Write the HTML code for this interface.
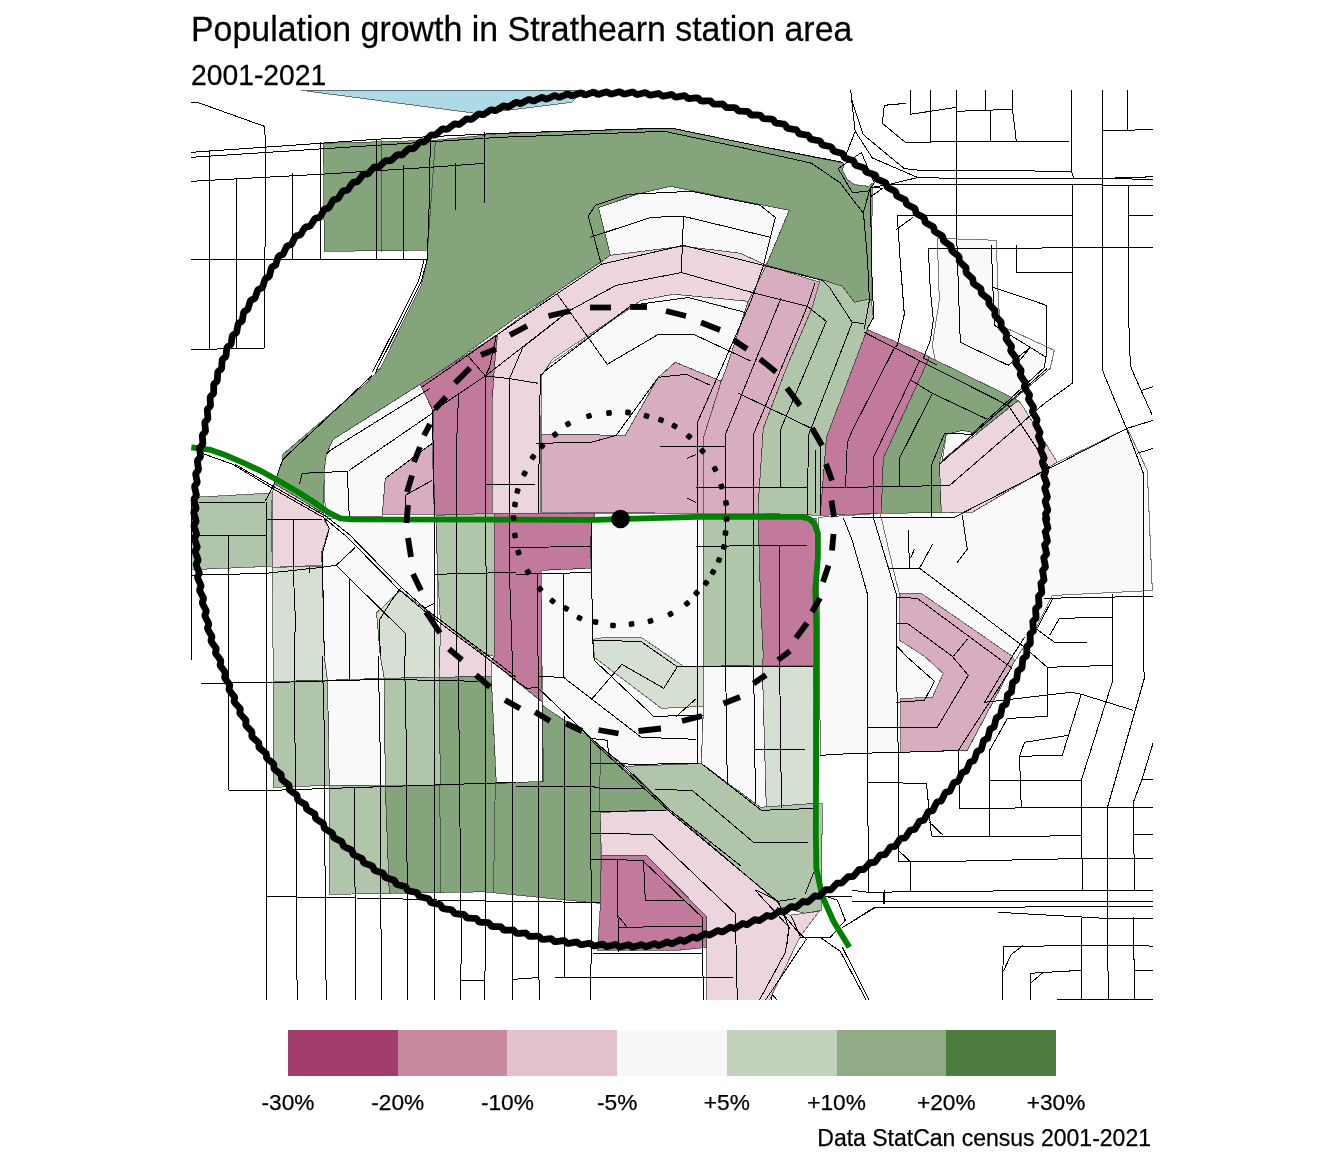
<!DOCTYPE html>
<html lang="en"><head><meta charset="utf-8"><title>Population growth in Strathearn station area</title>
<style>
html,body{margin:0;padding:0;background:#fff}
body{width:1344px;height:1152px;overflow:hidden;font-family:"Liberation Sans",sans-serif;color:#000}
svg{display:block}
text{font-family:"Liberation Sans",sans-serif;fill:#000;stroke:#000;stroke-width:0.25px}
</style></head><body>
<svg width="1344" height="1152" viewBox="0 0 1344 1152">
<rect width="1344" height="1152" fill="#fff"/>
<defs><clipPath id="panel"><rect x="191" y="90" width="962" height="910"/></clipPath></defs>
<text transform="translate(191 41) scale(1 1.03)" font-size="33.9">Population growth in Strathearn station area</text>
<text transform="translate(191 84.8) scale(1 1.03)" font-size="28.3">2001-2021</text>
<g clip-path="url(#panel)">
<g shape-rendering="crispEdges" stroke="#333" stroke-opacity="0.65" stroke-width="1" stroke-linejoin="round">
<polygon fill="#add8e6" points="301.4,90.3 474.6,113.2 500.3,111.25 571.4,102.3 584.8,90.3"/>
<polygon fill="#f9f9f9" points="598.5,207.5 640.3,193.3 670.3,186.3 789.3,210.3 766.3,265.3 740.3,253.3 683.3,246.3 610.3,255.3"/>
<polygon fill="#f9f9f9" points="937.3,238.3 996.3,240.3 998.3,300.3 1000.3,325.3 1054.3,350.3 1050.3,368.3 942.3,460.3 936.3,365.3 932.3,345.3 939.3,300.3"/>
<polygon fill="#84a57b" points="323.3,143.3 434.3,140.3 500.3,133.6 659.3,128.5 672.3,128.5 740.3,142.3 843.6,163.2 842.7,170.4 847.3,179.3 854.3,184.6 868.6,186.4 872.3,183.3 871.3,300.3 868.3,299.3 854.3,302.3 842.5,286.3 820.3,279.3 766.3,265.3 789.3,210.3 670.3,186.3 640.3,193.3 598.5,207.5 610.3,255.3 600.3,262.5 557.3,291.3 516.3,317.5 445.3,368.3 420.3,384.3 333.3,439.3 326.3,454.3 324.3,470.3 323.3,513.3 274.3,483.6 282.7,459.8 282.7,454.4 367.3,382.3 380.3,368.3 421.3,285.3 427.3,259.3 427.5,250.3 324.3,251.3"/>
<polygon fill="#f9f9f9" points="420.3,384.3 333.3,439.3 326.3,454.3 324.3,470.3 325.3,516.3 382.3,516.3 385.3,478.3 432.3,443.3 433.3,411.3"/>
<polygon fill="#d9adc0" points="385.3,478.3 432.3,443.3 434.3,514.3 382.3,514.3"/>
<polygon fill="#c17a9b" points="420.3,384.3 497.5,334.5 494.3,368.3 492.3,400.3 492.3,514.3 434.3,514.3 433.3,411.3"/>
<polygon fill="#ecd5dc" points="497.5,334.5 516.3,320.3 557.3,291.3 600.3,262.5 610.3,255.3 683.3,246.3 740.3,253.3 766.3,265.3 748.3,301.3 673.5,294.3 641.3,300.3 552.3,359.3 541.3,376.3 540.3,513.3 492.3,514.3 492.3,400.3 494.3,368.3"/>
<polygon fill="#f9f9f9" points="549.5,364.3 641.3,300.3 673.5,294.3 748.3,301.3 726.3,368.3 721.3,381.3 675.3,362.3 658.3,377.3 625.3,435.3 541.3,434.3 541.3,376.3"/>
<polygon fill="#d9adc0" points="541.3,434.3 625.3,435.3 658.3,377.3 675.3,362.3 721.3,381.3 703.3,438.3 703.3,513.3 541.3,512.3"/>
<polygon fill="#d9adc0" points="766.3,265.3 820.3,282.5 812.3,307.5 786.3,368.3 763.3,428.3 758.3,503.3 758.3,513.3 703.3,513.3 703.3,438.3 721.3,381.3 726.3,368.3 748.3,301.3"/>
<polygon fill="#b1c5ab" points="820.3,279.3 842.5,286.3 854.3,302.3 868.3,299.3 871.3,300.3 873.3,317.3 867.3,329.5 826.5,437.3 820.3,515.3 758.3,513.3 758.3,503.3 763.3,428.3 786.3,368.3 812.3,307.5"/>
<polygon fill="#c17a9b" points="867.3,329.5 929.3,356.4 924.5,368.3 883.3,458.3 881.3,513.3 820.3,515.3 826.5,437.3"/>
<polygon fill="#84a57b" points="929.3,357.3 952.3,368.3 1018.3,400.5 977.3,433.3 962.3,430.5 946.3,434.3 939.5,463.3 941.3,513.3 881.3,513.3 883.3,458.3 924.5,368.3"/>
<polygon fill="#ecd5dc" points="1018.3,400.5 1022.3,405.5 1057.3,462.3 972.3,512.3 941.3,513.3 939.5,463.3 977.3,433.3"/>
<polygon fill="#f9f9f9" points="946.3,434.3 962.3,430.5 977.3,433.3 942.3,460.3"/>
<polygon fill="#f9f9f9" points="881.3,513.3 972.3,512.3 1057.3,462.3 1127.3,428.3 1147.3,470.5 1152.3,590.5 1052.3,595.5 1037.3,625.5 1014.5,661.3 967.3,750.3 900.5,752.3 852.3,753.5 820.3,755.3 818.3,517.3"/>
<polygon fill="#d9adc0" points="899.5,593.3 921.3,593.3 1012.3,656.3 1014.5,661.3 967.3,750.3 900.5,752.3 900.5,698.5 932.3,697.3 943.3,673.5 924.5,656.3 899.5,640.3"/>
<polygon fill="#b1c5ab" points="191.3,497.5 267.2,493.3 273.3,492.3 271.4,503.8 272.2,566.25 200.3,569.3 191.3,569.5"/>
<polygon fill="#ecd5dc" points="274.3,483.6 323.3,513.3 324.3,520.3 329.3,528.3 321.3,553.3 322.3,565.3 272.3,567.3 272.3,493.3"/>
<polygon fill="#d5dfd2" points="272.3,567.3 322.3,566.3 324.3,656.3 327.5,680.3 273.3,681.5"/>
<polygon fill="#f9f9f9" points="324.3,518.3 436.3,518.3 437.3,568.3 437.3,620.3 426.3,610.3 400.3,590.3 376.3,613.3 377.3,620.3 380.3,656.3 384.3,678.3 327.5,680.3 324.3,656.3 322.3,565.3 321.3,553.3 329.3,528.3"/>
<polygon fill="#b1c5ab" points="436.3,515.3 494.3,513.3 494.3,656.3 482.3,653.3 440.3,620.3 437.3,568.3"/>
<polygon fill="#c17a9b" points="494.3,513.3 595.3,513.3 591.3,523.3 590.3,568.3 541.3,570.3 541.3,656.3 542.3,702.3 516.3,681.3 491.3,661.3 494.3,656.3"/>
<polygon fill="#f9f9f9" points="595.3,513.3 697.3,513.3 703.3,518.3 703.3,656.3 703.5,706.3 701.3,763.5 626.3,766.3 542.3,706.3 541.3,570.3 590.3,568.3 591.3,523.3"/>
<polygon fill="#b1c5ab" points="703.3,518.3 758.3,518.3 760.3,593.3 763.3,656.3 762.3,665.3 703.5,666.3"/>
<polygon fill="#c17a9b" points="758.3,518.3 816.3,518.3 816.3,656.3 813.5,665.3 762.3,665.3 763.3,656.3 760.3,593.3"/>
<polygon fill="#d5dfd2" points="593.3,639.3 605.3,637.3 641.3,637.3 684.3,666.8 704.3,666.8 704.3,706.3 661.3,708.3 594.3,657.3"/>
<polygon fill="#d5dfd2" points="376.3,613.3 400.3,590.3 426.3,610.3 440.3,633.3 439.3,677.3 384.3,678.3 380.3,656.3 377.3,620.3"/>
<polygon fill="#ecd5dc" points="440.3,620.3 482.3,653.3 491.3,661.3 491.3,676.3 439.3,677.3 440.3,633.3"/>
<polygon fill="#f9f9f9" points="327.5,680.3 384.3,678.3 385.3,785.3 329.3,785.3"/>
<polygon fill="#b1c5ab" points="273.3,681.5 327.5,680.3 329.3,785.3 273.3,787.3"/>
<polygon fill="#b1c5ab" points="384.3,678.3 439.3,677.3 440.3,785.3 385.3,785.3"/>
<polygon fill="#b1c5ab" points="329.3,785.3 385.3,786.3 389.3,893.5 329.5,894.3"/>
<polygon fill="#84a57b" points="439.3,677.3 491.3,676.3 496.3,783.5 516.3,782.3 542.3,781.3 542.3,705.3 591.3,738.5 670.3,810.3 600.3,812.3 600.3,903.4 484.3,891.8 389.3,893.5 385.3,786.3 440.3,785.3"/>
<polygon fill="#f9f9f9" points="491.3,676.3 491.3,661.3 516.3,681.3 542.3,702.3 542.3,781.3 496.3,783.5"/>
<polygon fill="#f9f9f9" points="703.5,666.3 762.3,665.3 766.3,807.3 760.3,807.3 701.3,763.5 703.5,706.3"/>
<polygon fill="#d5dfd2" points="762.3,665.3 813.5,665.3 813.5,803.5 766.3,807.3"/>
<polygon fill="#b1c5ab" points="626.3,766.3 701.3,763.5 760.3,807.3 813.5,803.5 822.3,803.5 821.3,910.3 805.3,913.3 781.3,907.3 777.3,902.3 670.3,810.3"/>
<polygon fill="#ecd5dc" points="600.3,812.3 670.3,810.3 777.3,902.3 781.3,907.3 789.3,915.3 819.3,911.3 800.3,936.3 769.3,1000.3 706.3,1000.3 706.3,916.3 646.3,855.3 601.3,855.3"/>
<polygon fill="#c17a9b" points="601.3,855.3 646.3,855.3 706.3,916.3 706.3,947.5 677.5,950.3 597.5,950.5 600.3,906.3"/>
</g>
<g shape-rendering="crispEdges" fill="none" stroke="#333" stroke-opacity="0.65" stroke-width="1">
<polyline points="381.3,139.5 381.3,252.3"/>
<polyline points="435.3,142.3 427.5,250.3"/>
<polyline points="942.3,460.3 1050.3,368.3"/>
<polyline points="439.8,785.3 440.5,893.3"/>
<polyline points="495.3,783.5 493.5,892.3"/>
<polyline points="600.4,749.3 599.5,811.4"/>
<polyline points="542.3,706.3 543.6,782.3"/>
<polyline points="880.4,514.3 896.4,582.3 900.3,596.3"/>
</g>
<g shape-rendering="crispEdges" fill="none" stroke="#000" stroke-width="1">
<polyline points="191.3,102.3 197.3,102.3 264.3,126.3 265.3,138.3 265.3,246.3 264.3,250.3 264.3,348.3"/>
<polyline points="191.3,152.3 320.3,143.3 375.3,139.3 500.3,133.3 659.3,128.3 672.3,128.3 740.3,142.3 843.3,162.5"/>
<polyline points="191.3,157.3 500.3,137.3 664.3,131.3 740.3,147.3 811.4,163.2 840.3,182.9 863.2,213.2 870.4,187.3"/>
<polyline points="191.3,181.3 320.3,174.3 430.3,167.3 484.3,163.3"/>
<polyline points="209.5,150.3 209.5,349.3"/>
<polyline points="236.5,179.3 236.5,349.3"/>
<polyline points="292.5,173.3 292.5,259.3"/>
<polyline points="320.5,142.3 320.5,259.3"/>
<polyline points="376.3,139.3 376.3,200.3 376.5,259.3"/>
<polyline points="403.5,165.3 403.5,259.3"/>
<polyline points="430.3,140.3 429.3,200.3 427.3,259.3 421.4,281.3 377.5,368.3 375.3,373.3"/>
<polyline points="455.5,163.3 455.5,210.3"/>
<polyline points="484.5,132.3 484.5,203.3"/>
<polyline points="191.3,259.3 427.3,259.3"/>
<polyline points="191.3,349.3 196.3,349.3 264.3,348.3"/>
<polyline points="191.5,497.3 191.5,660.3"/>
<polyline points="910.5,90.3 910.5,114.3 956.3,107.3"/>
<polyline points="930.5,90.3 930.5,142.3"/>
<polyline points="956.5,90.3 956.5,230.3 958.3,285.3 960.3,342.3 1008.3,365.3 1030.3,347.3"/>
<polyline points="985.5,90.3 985.5,110.3"/>
<polyline points="1012.5,90.3 1012.5,109.3 1016.3,141.3"/>
<polyline points="956.3,111.3 1012.3,109.3"/>
<polyline points="990.5,110.3 990.5,141.3"/>
<polyline points="905.3,142.3 990.3,141.3 1069.3,141.3"/>
<polyline points="906.3,103.3 884.3,105.3 882.3,123.3 905.3,142.3"/>
<polyline points="1071.5,90.3 1071.5,171.3 1073.3,177.3"/>
<polyline points="1102.5,90.3 1102.5,368.3"/>
<polyline points="1127.5,90.3 1127.5,130.3"/>
<polyline points="1102.3,130.3 1127.3,130.3 1153.3,129.3"/>
<polyline points="904.3,168.6 920.3,170.4 960.3,170.4 1071.3,171.3 1073.8,177.8"/>
<polyline points="917.7,177.5 960.3,178.5 1096.3,178.5 1142.3,177.3 1153.3,176.3"/>
<polyline points="1096.3,178.5 1153.3,179.3"/>
<polyline points="872.3,187.3 888.3,184.6 960.3,184.5 1153.3,185.2"/>
<polyline points="850.7,90.3 851.6,99.3 855.2,131.3 845.4,156.3"/>
<polyline points="851.6,99.3 863.2,134.6 904.3,168.6"/>
<polyline points="855.2,131.3 872.3,157.9 917.7,177.5 888.3,184.6"/>
<polyline points="838.2,168.6 852.5,192.7 868.6,190.9 874.3,182.9 861.4,152.5 838.2,168.6"/>
<polyline points="870.4,187.3 882.9,188.2 871.25,196.25"/>
<polyline points="897.3,215.3 1072.3,215.3"/>
<polyline points="1072.5,185.3 1072.5,368.3"/>
<polyline points="1128.5,185.3 1128.3,308.3 1130.3,364.3 1131.3,368.3"/>
<polyline points="1128.3,215.3 1153.3,215.3"/>
<polyline points="928.3,248.3 1040.3,248.3 1045.3,247.3 1153.3,247.3"/>
<polyline points="1016.5,245.3 1016.5,272.3 1072.3,272.3"/>
<polyline points="897.3,215.3 900.3,262.3 904.3,314.3 897.3,345.3 894.5,347.7"/>
<polyline points="896.3,229.3 913.3,217.3"/>
<polyline points="928.3,248.3 930.3,290.3 933.3,320.3 930.3,340.3 923.3,358.3 937.3,365.3"/>
<polyline points="991.3,245.3 994.3,325.3 1046.3,357.3"/>
<polyline points="993.3,287.3 1046.3,305.3 1046.3,357.3"/>
<polyline points="1030.3,347.3 1018.3,362.3"/>
<polyline points="203.3,453.8 232.7,464.3 272.3,488.3 323.5,517.5 346.3,536.3 398.5,589.3 426.3,612.5 491.3,661.3 516.3,680.3"/>
<polyline points="235.3,464.5 276.7,488.3 326.3,516.5 349.3,534.5 401.3,587.5 428.5,611.3 493.3,659.5 516.3,677.3"/>
<polyline points="265.4,500.8 274.3,483.6 282.7,459.8 289.3,453.3 372.3,375.3"/>
<polyline points="266.3,502.3 266.3,660.3"/>
<polyline points="266.3,519.3 322.3,519.3"/>
<polyline points="199.3,502.3 265.3,502.3"/>
<polyline points="191.3,535.3 266.3,535.3"/>
<polyline points="228.5,535.3 228.5,790.3"/>
<polyline points="191.3,575.3 266.3,573.3 322.3,567.3 336.3,565.3"/>
<polyline points="293.5,519.3 293.5,575.3 295.3,618.3 294.5,656.3"/>
<polyline points="309.3,567.3 309.3,573.3"/>
<polyline points="302.3,473.3 325.3,472.3 347.3,471.3 349.3,517.3"/>
<polyline points="302.3,473.3 299.3,484.3"/>
<polyline points="326.3,454.3 330.3,450.3 430.3,388.3"/>
<polyline points="349.3,470.3 432.3,413.3"/>
<polyline points="385.3,478.3 432.3,443.3"/>
<polyline points="405.3,495.3 432.3,480.3"/>
<polyline points="405.3,495.3 406.3,520.3"/>
<polyline points="324.3,518.3 329.3,528.3 322.3,553.3 324.3,656.3"/>
<polyline points="336.3,565.3 355.3,547.3"/>
<polyline points="336.3,565.3 350.3,579.3 405.3,633.3 405.3,656.3"/>
<polyline points="349.5,579.3 349.5,680.3"/>
<polyline points="400.3,588.3 390.3,602.3 379.3,620.3 380.3,656.3"/>
<polyline points="434.3,603.3 424.3,608.3"/>
<polyline points="432.5,410.3 434.3,514.3 434.5,560.3 434.5,1000.3"/>
<polyline points="458.6,392.9 456.3,450.3 456.3,656.3"/>
<polyline points="485.4,375.9 486.3,656.3"/>
<polyline points="485.3,484.3 516.3,484.3"/>
<polyline points="435.3,574.3 516.3,572.3"/>
<polyline points="540.3,375.3 538.3,513.3"/>
<polyline points="485.4,375.9 509.5,378.6 538.3,383.3"/>
<polyline points="467.5,355.4 485.4,375.9"/>
<polyline points="496.3,335.7 489.3,367.9 485.4,375.9"/>
<polyline points="509.5,378.6 522.9,347.3 569.3,310.7"/>
<polyline points="536.3,443.3 591.3,442.3 616.3,435.3 658.3,377.3 686.3,374.3 710.3,385.3"/>
<polyline points="516.3,484.3 535.3,484.3"/>
<polyline points="697.5,422.3 697.5,513.3"/>
<polyline points="697.5,520.3 697.5,764.3"/>
<polyline points="725.5,434.3 725.5,656.3"/>
<polyline points="725.5,434.3 781.3,297.5"/>
<polyline points="753.5,434.3 753.5,656.3"/>
<polyline points="753.5,434.3 807.3,306.3"/>
<polyline points="780.3,430.3 780.3,487.3"/>
<polyline points="780.3,430.3 826.3,321.3"/>
<polyline points="808.5,435.3 807.3,515.3"/>
<polyline points="808.5,435.3 852.3,322.5"/>
<polyline points="820.3,445.3 820.3,515.3"/>
<polyline points="815.3,450.3 815.3,513.3"/>
<polyline points="660.3,446.3 725.3,446.3"/>
<polyline points="696.3,487.3 807.3,487.3"/>
<polyline points="696.3,546.3 807.3,545.3"/>
<polyline points="779.5,545.3 779.5,656.3"/>
<polyline points="687.3,458.3 696.3,454.3"/>
<polyline points="687.3,498.3 696.3,502.5"/>
<polyline points="738.5,393.3 811.3,428.3 821.3,445.3"/>
<polyline points="509.5,547.5 590.3,546.5"/>
<polyline points="563.5,573.3 563.5,677.3"/>
<polyline points="591.3,523.3 591.3,568.3 593.3,656.3 595.3,661.3"/>
<polyline points="516.3,574.3 591.3,572.5"/>
<polyline points="537.3,574.3 537.3,656.3"/>
<polyline points="820.3,487.3 852.3,487.3"/>
<polyline points="843.5,518.3 852.3,540.3"/>
<polyline points="852.3,517.3 954.3,517.3 1127.3,428.3 1153.3,420.3"/>
<polyline points="852.3,487.3 949.5,485.5 1044.5,403.3 1072.3,383.3 1072.3,368.3"/>
<polyline points="873.5,457.3 873.5,517.3"/>
<polyline points="873.5,457.3 919.7,360.7"/>
<polyline points="845.5,487.3 847.3,442.3 852.3,430.5 894.5,347.7"/>
<polyline points="899.5,458.3 899.5,485.5"/>
<polyline points="899.5,458.3 932.3,393.3 987.3,419.3"/>
<polyline points="931.3,465.5 931.3,517.3"/>
<polyline points="931.3,465.5 944.6,433.2 971.4,434.3 1044.6,367.3 1045.5,357.3"/>
<polyline points="934.5,368.3 1008.3,405.5 1038.3,450.5 1049.5,468.3"/>
<polyline points="911.3,380.5 932.3,393.3"/>
<polyline points="939.5,464.3 1047.3,368.3"/>
<polyline points="873.3,517.3 896.3,594.3 896.3,656.3"/>
<polyline points="852.3,540.5 867.5,594.3 867.5,656.3"/>
<polyline points="888.3,568.3 919.5,568.3 1022.3,645.5"/>
<polyline points="908.3,530.5 909.5,568.3"/>
<polyline points="914.5,549.3 910.3,558.3"/>
<polyline points="932.5,544.3 919.5,568.3"/>
<polyline points="962.3,515.5 967.3,549.3 956.5,563.5"/>
<polyline points="1102.3,368.3 1104.5,375.5 1127.3,430.5 1143.3,473.3 1143.3,656.3"/>
<polyline points="1131.3,368.3 1152.3,415.5"/>
<polyline points="1141.3,390.5 1153.3,386.5"/>
<polyline points="1137.3,453.3 1153.3,448.3"/>
<polyline points="1044.5,598.3 1153.3,596.3"/>
<polyline points="1112.5,594.3 1112.5,656.3"/>
<polyline points="1037.3,628.3 1052.3,599.3"/>
<polyline points="1059.5,618.3 1112.3,617.3"/>
<polyline points="1059.5,618.3 1049.5,635.5"/>
<polyline points="1035.5,628.3 1054.5,642.3 1087.3,642.3"/>
<polyline points="896.3,597.3 917.3,598.3 1011.6,667.9 958.3,750.5 959.5,808.3"/>
<polyline points="896.3,623.3 907.3,623.3 952.3,656.3"/>
<polyline points="967.3,639.3 953.3,656.3"/>
<polyline points="1012.3,656.3 1024.5,637.3"/>
<polyline points="896.3,645.5 906.3,656.3"/>
<polyline points="266.5,656.3 266.5,1000.3"/>
<polyline points="228.5,790.3 272.5,790.3 516.3,782.3"/>
<polyline points="201.3,683.3 273.3,682.5 384.3,679.3 478.3,681.3"/>
<polyline points="294.5,656.3 294.5,718.3 296.3,806.3 296.5,944.3 297.3,1000.3"/>
<polyline points="322.3,656.3 324.3,731.3 324.5,786.3 325.5,944.3 326.3,1000.3"/>
<polyline points="378.3,656.3 380.3,756.3 381.3,1000.3"/>
<polyline points="404.5,656.3 406.3,743.3 407.5,944.3 407.6,1000.3"/>
<polyline points="458.3,656.3 459.5,781.3 461.3,944.3 460.5,1000.3"/>
<polyline points="485.5,656.3 485.5,944.3 484.5,1000.3"/>
<polyline points="354.5,788.3 355.3,944.3 355.5,1000.3"/>
<polyline points="266.5,896.5 385.3,898.5 461.3,900.7 600.3,902.5"/>
<polyline points="538.3,656.3 538.5,944.3 539.3,1000.3"/>
<polyline points="538.3,676.5 563.5,677.3"/>
<polyline points="563.5,677.3 641.3,737.3 696.3,739.3"/>
<polyline points="595.3,661.3 653.5,716.3 703.5,715.3"/>
<polyline points="593.3,640.3 604.3,640.3 641.4,641.8 677.3,666.8 663.75,688.3 621.8,664.3 592.3,698.5"/>
<polyline points="676.3,666.3 813.3,666.3"/>
<polyline points="676.3,716.3 696.3,698.5"/>
<polyline points="516.3,681.3 527.3,688.5 537.3,687.3 591.3,738.5 607.3,740.3 608.5,753.5"/>
<polyline points="591.3,738.5 626.3,768.3 670.3,810.3 741.3,866.3"/>
<polyline points="591.3,740.5 670.3,812.3 778.5,902.3 788.5,926.3 787.3,944.3"/>
<polyline points="564.3,716.3 564.5,977.5"/>
<polyline points="590.5,738.5 591.3,944.3 590.5,1000.3"/>
<polyline points="591.4,763.3 643.3,764.3 697.7,763.2"/>
<polyline points="516.3,786.3 591.3,786.3 600.3,788.3 643.5,788.3"/>
<polyline points="591.3,811.5 666.3,810.5"/>
<polyline points="591.3,833.5 652.3,834.3 735.3,913.5 737.3,1000.3"/>
<polyline points="591.3,859.3 642.3,860.3 702.3,917.3 703.3,1000.3"/>
<polyline points="617.5,859.3 618.3,952.5"/>
<polyline points="643.5,860.3 645.3,900.3 683.5,900.3"/>
<polyline points="618.3,927.3 702.3,926.3"/>
<polyline points="618.3,916.3 627.3,927.3"/>
<polyline points="655.3,789.3 692.3,790.5 753.5,842.3 808.3,842.3"/>
<polyline points="701.3,763.5 761.3,810.3 813.5,808.5"/>
<polyline points="725.5,656.3 727.3,785.3"/>
<polyline points="753.5,656.3 755.5,803.5"/>
<polyline points="779.5,656.3 781.5,808.5"/>
<polyline points="753.5,749.3 805.3,749.3"/>
<polyline points="820.3,755.3 852.3,753.5"/>
<polyline points="815.3,868.5 805.3,893.5"/>
<polyline points="756.3,890.3 778.5,901.3 796.3,898.5"/>
<polyline points="791.3,916.3 800.3,936.3"/>
<polyline points="867.5,656.3 867.5,756.3 868.5,892.3"/>
<polyline points="896.3,656.3 898.3,756.3 898.3,861.3"/>
<polyline points="867.5,727.3 937.3,727.3 968.3,675.3 952.3,656.3"/>
<polyline points="896.3,702.3 924.5,700.3 934.5,681.3 906.3,656.3"/>
<polyline points="1012.3,656.3 984.5,702.3 1071.3,692.3 1081.3,694.3 1133.3,710.3"/>
<polyline points="1022.3,645.5 1047.3,667.3 1112.5,665.3"/>
<polyline points="1047.3,667.3 1047.5,716.3 1007.3,718.5 989.5,750.5 989.5,836.3"/>
<polyline points="1112.5,656.3 1112.5,681.3 1081.3,780.3 1082.3,890.3"/>
<polyline points="1081.3,694.3 1062.3,755.3 1019.5,756.3 1024.5,742.3 1067.5,735.5"/>
<polyline points="1019.5,756.3 1021.3,808.3"/>
<polyline points="989.5,780.3 1081.3,780.3"/>
<polyline points="959.5,808.3 1153.3,807.3"/>
<polyline points="931.5,836.3 1036.3,836.3 1081.5,835.3"/>
<polyline points="868.3,782.3 926.5,783.5 931.5,836.3"/>
<polyline points="929.5,822.3 943.3,835.5"/>
<polyline points="898.3,861.3 952.3,861.3 1081.5,858.5 1153.3,858.3"/>
<polyline points="898.3,850.3 910.3,861.5 910.3,892.3"/>
<polyline points="852.3,890.3 868.3,892.3 932.3,891.5 1081.5,890.3 1153.3,890.3"/>
<polyline points="852.3,901.5 1153.3,901.5"/>
<polyline points="852.3,921.3 874.5,907.3 972.3,907.3 1153.3,906.3"/>
<polyline points="883.3,892.3 883.3,903.5"/>
<polyline points="998.3,912.3 1104.5,918.3 1153.3,918.5"/>
<polyline points="1081.5,918.3 1081.5,1000.3"/>
<polyline points="1107.5,807.3 1107.5,940.3 1108.5,1000.3"/>
<polyline points="1143.3,656.3 1144.3,678.5 1107.5,807.3"/>
<polyline points="1133.3,802.3 1134.5,890.3"/>
<polyline points="1133.5,917.5 1134.5,1000.3"/>
<polyline points="1153.3,742.3 1142.3,778.5 1133.3,802.3"/>
<polyline points="1142.3,779.3 1153.3,779.3"/>
<polyline points="1134.3,834.3 1153.3,834.3"/>
<polyline points="820.3,755.3 852.3,753.5 900.3,752.3 958.3,750.5"/>
<polyline points="460.5,980.5 484.5,980.5"/>
<polyline points="509.5,378.6 509.5,573.3 512.3,660.3 512.5,890.3 512.6,1000.3"/>
<polyline points="512.6,979.4 539.3,977.5"/>
<polyline points="555.3,977.5 732.5,977.5"/>
<polyline points="592.5,953.3 702.5,953.3"/>
<polyline points="673.5,890.3 702.5,917.5"/>
<polyline points="755.3,890.3 789.3,927.5 785.3,952.5 759.3,1000.3"/>
<polyline points="777.5,907.5 797.5,931.3 806.3,939.3 765.3,1000.3"/>
<polyline points="771.3,1000.3 772.3,994.3 777.3,1000.3"/>
<polyline points="800.3,937.3 830.3,937.3 845.3,920.3 837.5,900.3 822.5,895.3"/>
<polyline points="820.3,937.5 840.3,951.3 866.3,1000.3"/>
<polyline points="842.5,947.5 869.3,1000.3"/>
<polyline points="842.5,927.5 875.3,907.5 896.3,907.3"/>
<polyline points="827.5,896.3 852.3,896.3"/>
<polyline points="884.3,890.3 884.3,903.5"/>
<polyline points="1003.3,946.3 1139.5,945.3 1153.3,946.3"/>
<polyline points="1003.3,946.3 1002.5,1000.3"/>
<polyline points="1023.3,945.5 1011.3,954.3 1003.3,971.3"/>
<polyline points="1030.3,973.3 1081.5,970.3"/>
<polyline points="1030.3,973.3 1030.3,1000.3"/>
<polyline points="1043.3,972.3 1030.3,983.3"/>
<polyline points="1056.5,999.3 1153.3,999.3"/>
<polyline points="1133.5,970.5 1153.3,970.5"/>
<polyline points="588.3,216.3 595.3,205.3 628.5,194.3 691.3,191.3 760.3,205.3 775.3,217.5 763.5,265.3 751.3,300.3 697.5,422.3"/>
<polyline points="588.3,216.3 601.3,264.3 556.3,294.3 497.9,334.3 421.3,387.5"/>
<polyline points="590.3,237.3 651.3,217.3 683.5,216.3 770.3,237.3"/>
<polyline points="683.5,216.3 681.3,272.5"/>
<polyline points="601.3,264.3 683.5,245.3 763.5,265.3 822.3,280.3"/>
<polyline points="433.6,410.7 485.4,375.9 569.3,310.7 616.3,285.3 681.3,272.5 752.3,292.5 807.3,306.3"/>
<polyline points="557.3,294.3 607.3,364.3 658.5,334.3 693.5,334.3 751.3,361.3"/>
<polyline points="540.3,375.3 548.5,368.3 631.3,305.3 688.5,297.5 745.3,312.5"/>
<polyline points="815.3,282.5 807.3,306.3"/>
<polyline points="807.3,306.3 826.3,321.3"/>
<polyline points="822.3,280.3 829.4,287.3 852.3,322.5 864.3,323.4"/>
<polyline points="864.3,332.3 934.5,368.3"/>
<polyline points="870.7,187.5 871.3,260.3 873.7,317.3 866.8,329.4"/>
<polyline points="863.3,211.3 867.6,260.3 869.4,300.3 864.2,329.4"/>
<polyline points="424.3,259.3 418.5,281.3 372.5,372.3"/>
</g>
</g>
<polyline fill="none" stroke="#008000" stroke-width="5.8" stroke-linejoin="round" points="191.3,447.3 209.3,449.6 226.7,455.6 244.6,463.3 262.4,471.7 280.3,481.8 298.3,492.3 316.3,503.8 328.3,512.3 340.3,518.3 351.3,519.3 516.3,519.7 594.3,519.8 696.3,516.9 801.3,516.9 808.3,518.3 814.3,523.3 817.9,533.3 817.9,557.3 815.3,589.3 816.3,625.3 816.5,706.3 815.8,831.3 816.3,868.5 822.3,896.3 833.5,921.3 849.3,947.3"/>
<polygon fill="none" stroke="#000" stroke-width="6.8" stroke-linejoin="round" points="1045.4,519 1045.8,520.3 1046.2,521.6 1046.5,522.9 1046.9,524.2 1047.2,525.5 1047.6,526.8 1047.9,528.1 1047,529.4 1046.1,530.7 1045.2,531.9 1045.6,533.2 1045.9,534.5 1046.2,535.8 1046.5,537.2 1046.8,538.5 1047.1,539.8 1047.4,541.1 1046.5,542.4 1045.6,543.6 1044.6,544.8 1044.9,546.2 1045.2,547.5 1045.5,548.8 1045.8,550.1 1046.1,551.4 1046.4,552.8 1046.6,554.1 1045.6,555.3 1044.7,556.5 1043.7,557.7 1044,559.1 1044.2,560.4 1044.5,561.7 1044.8,563 1045,564.4 1045.2,565.7 1045.5,567 1044.5,568.2 1043.5,569.4 1042.5,570.6 1042.7,571.9 1043,573.3 1043.2,574.6 1043.4,575.9 1043.6,577.3 1043.8,578.6 1044,580 1043,581.1 1041.9,582.3 1040.9,583.4 1041,584.8 1041.2,586.1 1041.3,587.4 1041.5,588.8 1041.6,590.1 1041.7,591.5 1041.8,592.8 1040.7,593.9 1039.6,595 1038.5,596.2 1038.6,597.5 1038.7,598.8 1038.7,600.2 1038.8,601.5 1038.9,602.8 1038.9,604.2 1039,605.5 1037.8,606.6 1036.7,607.7 1035.6,608.7 1035.6,610.1 1035.7,611.4 1035.8,612.8 1035.9,614.1 1036,615.5 1036,616.8 1036.1,618.2 1035,619.2 1033.9,620.3 1032.8,621.4 1032.9,622.7 1033,624.1 1033.1,625.4 1033.1,626.8 1033.2,628.2 1033.3,629.5 1033.4,630.9 1032.3,631.9 1031.1,633 1030,634 1030.1,635.4 1030.2,636.7 1030.2,638.1 1030.2,639.5 1030.3,640.8 1030.3,642.2 1030.3,643.6 1029.1,644.6 1027.9,645.6 1026.8,646.6 1026.8,647.9 1026.8,649.3 1026.8,650.6 1026.7,652 1026.7,653.3 1026.6,654.7 1026.5,656 1025.3,657 1024,657.9 1022.8,658.9 1022.7,660.2 1022.6,661.6 1022.4,662.9 1022.3,664.2 1022.2,665.5 1022,666.9 1021.8,668.2 1020.4,669.1 1019.1,669.9 1017.8,670.9 1017.6,672.2 1017.4,673.5 1017.3,674.8 1017.1,676.1 1016.9,677.4 1016.7,678.8 1016.4,680.1 1015.1,680.9 1013.8,681.8 1012.5,682.7 1012.4,684 1012.2,685.3 1012,686.7 1011.9,688 1011.7,689.4 1011.6,690.7 1011.4,692 1010.1,692.9 1008.8,693.7 1007.6,694.6 1007.4,696 1007.3,697.3 1007.1,698.7 1006.9,700 1006.7,701.3 1006.5,702.7 1006.2,704 1004.9,704.8 1003.6,705.6 1002.3,706.4 1002,707.7 1001.8,709.1 1001.5,710.4 1001.3,711.7 1001,713 1000.7,714.3 1000.4,715.6 999,716.4 997.6,717.1 996.3,717.9 996,719.2 995.6,720.5 995.3,721.8 995,723.1 994.7,724.4 994.4,725.7 994,727 992.6,727.7 991.3,728.4 989.9,729.1 989.6,730.5 989.3,731.8 989,733.1 988.7,734.4 988.4,735.7 988.1,737.1 987.7,738.4 986.3,739 984.9,739.7 983.6,740.4 983.3,741.8 983,743.1 982.6,744.4 982.3,745.7 981.9,747 981.6,748.3 981.1,749.6 979.7,750.2 978.3,750.9 977,751.5 976.6,752.8 976.2,754.1 975.8,755.4 975.4,756.7 975,758 974.5,759.3 974,760.5 972.6,761.1 971.1,761.7 969.7,762.3 969.3,763.6 968.8,764.8 968.4,766.1 967.9,767.3 967.4,768.6 966.9,769.8 966.4,771 964.9,771.6 963.4,772.1 962,772.6 961.5,773.9 960.9,775.1 960.4,776.4 959.9,777.6 959.4,778.8 958.9,780.1 958.2,781.2 956.7,781.7 955.2,782.2 953.8,782.7 953.2,783.9 952.7,785.1 952.1,786.3 951.6,787.6 951,788.8 950.5,790 949.8,791.2 948.3,791.6 946.8,792 945.4,792.5 944.8,793.7 944.2,794.9 943.7,796.1 943.1,797.3 942.5,798.6 941.9,799.8 941.2,800.9 939.7,801.3 938.2,801.7 936.8,802.2 936.2,803.4 935.6,804.6 935,805.8 934.5,807 933.9,808.2 933.3,809.5 932.6,810.6 931.1,811 929.6,811.3 928.2,811.8 927.6,813 927,814.2 926.4,815.4 925.8,816.6 925.1,817.9 924.5,819.1 923.8,820.2 922.3,820.6 920.8,820.9 919.4,821.3 918.8,822.5 918.1,823.7 917.5,824.9 916.8,826 916.1,827.2 915.4,828.4 914.7,829.5 913.1,829.7 911.6,830 910.1,830.3 909.4,831.4 908.7,832.6 907.9,833.7 907.2,834.8 906.5,835.9 905.7,837 904.9,838.1 903.3,838.2 901.7,838.4 900.3,838.7 899.5,839.8 898.8,840.9 898,842 897.3,843.1 896.5,844.3 895.8,845.4 894.9,846.4 893.4,846.6 891.8,846.7 890.4,847 889.6,848.2 888.9,849.3 888.1,850.4 887.3,851.5 886.6,852.6 885.8,853.7 884.9,854.7 883.3,854.8 881.7,854.8 880.2,855 879.4,856.1 878.6,857.2 877.8,858.3 877,859.3 876.2,860.4 875.4,861.5 874.5,862.4 872.9,862.5 871.3,862.5 869.8,862.7 869,863.7 868.1,864.7 867.2,865.7 866.3,866.7 865.4,867.7 864.5,868.7 863.6,869.5 862,869.5 860.4,869.5 858.9,869.6 858.1,870.7 857.2,871.7 856.3,872.8 855.5,873.8 854.6,874.9 853.8,875.9 852.8,876.7 851.2,876.7 849.6,876.6 848.1,876.7 847.2,877.6 846.2,878.5 845.3,879.5 844.4,880.4 843.4,881.4 842.5,882.4 841.5,883.2 840,883.2 838.4,883.1 837,883.2 836.1,884.2 835.2,885.2 834.2,886.2 833.3,887.2 832.4,888.2 831.5,889.1 830.4,889.9 828.9,889.8 827.3,889.6 825.8,889.6 824.9,890.6 823.9,891.6 823,892.5 822,893.5 821.1,894.5 820.1,895.5 819.1,896.3 817.6,896.2 816,896 814.6,896 813.6,896.9 812.6,897.9 811.6,898.8 810.6,899.7 809.6,900.5 808.6,901.4 807.5,902.1 806,901.9 804.4,901.6 802.9,901.5 801.9,902.4 800.9,903.2 799.8,904.1 798.8,904.9 797.8,905.8 796.7,906.6 795.6,907.3 794.1,907 792.5,906.7 791,906.6 790,907.4 788.9,908.2 787.9,909 786.8,909.8 785.8,910.6 784.7,911.5 783.6,912.1 782,911.8 780.5,911.4 779,911.2 778,912 776.9,912.8 775.8,913.6 774.7,914.4 773.6,915.2 772.6,915.9 771.4,916.5 769.9,916.2 768.3,915.8 766.9,915.5 765.8,916.3 764.7,917.1 763.6,917.8 762.5,918.6 761.4,919.3 760.3,920.1 759.1,920.7 757.6,920.3 756.1,919.9 754.7,919.6 753.6,920.4 752.5,921.1 751.4,921.9 750.2,922.6 749.1,923.4 748,924.1 746.8,924.7 745.3,924.2 743.9,923.8 742.4,923.5 741.3,924.3 740.2,925 739.1,925.7 737.9,926.5 736.8,927.2 735.7,927.9 734.5,928.5 733,928 731.5,927.5 730.1,927.2 729,928 727.8,928.7 726.7,929.4 725.5,930.1 724.4,930.8 723.2,931.5 722,931.9 720.5,931.4 719.1,930.9 717.7,930.6 716.5,931.2 715.3,931.9 714.2,932.5 713,933.2 711.8,933.9 710.6,934.6 709.4,935 708,934.5 706.5,934 705.2,933.7 704,934.4 702.8,935.1 701.6,935.7 700.4,936.4 699.3,937.1 698.1,937.8 696.8,938.3 695.4,937.8 694,937.2 692.6,936.9 691.5,937.6 690.3,938.3 689.1,938.9 687.8,939.6 686.6,940.3 685.4,940.9 684.2,941.4 682.8,940.8 681.4,940.2 680,939.8 678.8,940.5 677.6,941.1 676.3,941.6 675.1,942.2 673.9,942.8 672.6,943.4 671.4,943.7 670,943.1 668.6,942.4 667.2,942 666,942.5 664.7,943.1 663.5,943.6 662.2,944.1 661,944.7 659.7,945.2 658.4,945.5 657.1,944.8 655.7,944 654.4,943.6 653.1,944.1 651.8,944.6 650.6,945 649.3,945.5 648,946 646.7,946.5 645.5,946.7 644.1,945.9 642.8,945.1 641.4,944.6 640.1,945 638.9,945.4 637.6,945.8 636.3,946.2 635,946.6 633.7,947 632.4,947.1 631.1,946.2 629.8,945.3 628.5,944.7 627.2,945.1 625.9,945.4 624.6,945.8 623.3,946.1 622,946.5 620.7,946.8 619.4,946.9 618.1,946 616.8,945.1 615.5,944.4 614.2,944.8 612.9,945.1 611.6,945.5 610.3,945.8 609,946.1 607.7,946.5 606.3,946.5 605.1,945.6 603.8,944.7 602.5,944.1 601.2,944.4 599.9,944.7 598.6,945 597.3,945.3 596,945.6 594.6,945.8 593.3,945.9 592.1,944.9 590.9,943.9 589.6,943.2 588.3,943.5 587,943.7 585.6,944 584.3,944.2 583,944.5 581.7,944.7 580.4,944.7 579.2,943.7 577.9,942.7 576.7,942 575.4,942.2 574.1,942.4 572.7,942.7 571.4,942.9 570.1,943.1 568.7,943.3 567.4,943.3 566.2,942.3 565.1,941.3 563.8,940.5 562.5,940.7 561.2,940.9 559.8,941.1 558.5,941.3 557.2,941.5 555.8,941.6 554.5,941.6 553.4,940.5 552.2,939.4 551,938.6 549.7,938.8 548.4,938.9 547,939 545.7,939.2 544.3,939.3 543,939.4 541.7,939.2 540.6,938.1 539.5,936.9 538.3,936.1 537,936.1 535.7,936.2 534.3,936.3 533,936.3 531.6,936.4 530.3,936.4 529,936.2 527.9,935.1 526.9,933.9 525.7,933 524.4,933.1 523.1,933.1 521.7,933.2 520.4,933.3 519,933.3 517.7,933.4 516.4,933.2 515.3,932 514.3,930.9 513.2,930 511.8,930.1 510.5,930.1 509.1,930.1 507.7,930.2 506.4,930.2 505,930.3 503.7,930 502.7,928.8 501.7,927.6 500.6,926.7 499.3,926.7 498,926.7 496.6,926.6 495.3,926.6 493.9,926.5 492.6,926.5 491.3,926.1 490.3,924.9 489.4,923.6 488.3,922.7 487,922.6 485.7,922.5 484.3,922.4 483,922.4 481.6,922.3 480.3,922.2 479,921.9 478.1,920.7 477.1,919.4 476.1,918.5 474.7,918.4 473.4,918.4 472,918.3 470.7,918.2 469.3,918.2 467.9,918.1 466.7,917.7 465.8,916.5 464.8,915.3 463.8,914.3 462.5,914.3 461.1,914.2 459.7,914.1 458.4,914 457,913.9 455.6,913.7 454.4,913.3 453.5,912.1 452.7,910.8 451.7,909.8 450.3,909.6 449,909.4 447.6,909.3 446.3,909.1 445,908.9 443.6,908.7 442.4,908.2 441.6,906.8 440.8,905.5 439.9,904.4 438.5,904.2 437.2,904 435.9,903.7 434.6,903.5 433.2,903.2 431.9,902.9 430.7,902.4 430,901 429.2,899.6 428.3,898.5 427,898.3 425.7,898 424.4,897.7 423,897.4 421.7,897.2 420.4,896.9 419.2,896.3 418.4,895 417.7,893.6 416.8,892.6 415.5,892.3 414.1,892 412.8,891.7 411.5,891.5 410.1,891.2 408.8,890.9 407.6,890.4 406.9,889 406.2,887.6 405.3,886.6 404,886.3 402.6,885.9 401.3,885.6 400,885.3 398.7,885 397.3,884.6 396.2,884 395.5,882.6 394.9,881.2 394,880.1 392.7,879.7 391.4,879.4 390.1,879 388.8,878.6 387.5,878.2 386.2,877.8 385.1,877.2 384.5,875.7 383.8,874.3 383,873.1 381.8,872.7 380.5,872.3 379.2,871.9 377.9,871.5 376.6,871.1 375.3,870.7 374.2,870 373.6,868.5 373,867.1 372.3,865.9 371,865.5 369.7,865 368.4,864.6 367.1,864.1 365.8,863.6 364.6,863.2 363.5,862.4 363,860.9 362.5,859.5 361.7,858.3 360.5,857.8 359.2,857.3 358,856.7 356.7,856.2 355.5,855.7 354.2,855.2 353.2,854.3 352.7,852.8 352.3,851.3 351.6,850.1 350.4,849.5 349.2,849 347.9,848.4 346.7,847.9 345.5,847.3 344.3,846.7 343.3,845.9 342.8,844.4 342.4,842.9 341.8,841.6 340.5,841 339.3,840.5 338.1,839.9 336.9,839.3 335.6,838.7 334.4,838.1 333.5,837.2 333.1,835.7 332.7,834.2 332.1,832.9 331,832.3 329.8,831.6 328.6,831 327.4,830.3 326.3,829.6 325.1,828.9 324.2,828 324,826.4 323.7,824.8 323.2,823.4 322.1,822.7 321,822 319.8,821.3 318.7,820.6 317.6,819.9 316.5,819.2 315.6,818.2 315.3,816.6 315.1,815.1 314.6,813.8 313.4,813.1 312.2,812.4 311.1,811.7 309.9,811 308.7,810.4 307.5,809.7 306.6,808.8 306.3,807.3 306,805.8 305.5,804.5 304.3,803.8 303.1,803.2 301.9,802.5 300.8,801.8 299.6,801.1 298.4,800.3 297.6,799.4 297.4,797.8 297.2,796.3 296.7,795 295.6,794.2 294.5,793.5 293.4,792.7 292.3,791.9 291.2,791.1 290.1,790.3 289.3,789.3 289.2,787.7 289.1,786.1 288.7,784.8 287.6,784 286.5,783.2 285.5,782.4 284.4,781.6 283.3,780.7 282.3,779.9 281.5,778.9 281.4,777.3 281.3,775.7 281,774.4 279.9,773.5 278.8,772.7 277.8,771.9 276.7,771 275.7,770.2 274.6,769.4 273.9,768.3 273.9,766.7 273.9,765.1 273.5,763.8 272.5,762.9 271.5,762.1 270.4,761.2 269.4,760.4 268.3,759.5 267.2,758.6 266.5,757.6 266.5,756 266.4,754.5 266.1,753.2 265,752.4 263.9,751.5 262.8,750.7 261.8,749.8 260.7,748.9 259.6,748.1 258.9,747 258.9,745.5 258.9,743.9 258.6,742.6 257.5,741.7 256.5,740.8 255.5,739.9 254.4,739 253.4,738.1 252.4,737.2 251.8,736.1 251.9,734.5 252,732.9 251.7,731.6 250.8,730.6 249.9,729.6 249,728.7 248,727.7 247.1,726.7 246.2,725.7 245.7,724.5 245.8,723 246,721.4 245.8,720 244.9,719 244,718 243.1,717 242.2,716.1 241.3,715.1 240.4,714.1 239.8,712.9 240,711.3 240.2,709.8 240.1,708.4 239.1,707.4 238.2,706.4 237.3,705.4 236.4,704.4 235.5,703.4 234.6,702.4 234.1,701.2 234.3,699.7 234.6,698.1 234.4,696.7 233.6,695.7 232.7,694.7 231.9,693.6 231.1,692.5 230.3,691.5 229.5,690.4 229,689.2 229.4,687.6 229.7,686.1 229.7,684.7 228.9,683.6 228.1,682.5 227.3,681.5 226.5,680.4 225.7,679.3 224.9,678.2 224.6,677 224.9,675.4 225.3,673.9 225.3,672.5 224.5,671.4 223.7,670.3 222.9,669.2 222.1,668.2 221.3,667.1 220.5,666 220.1,664.8 220.5,663.3 220.8,661.8 220.7,660.4 219.9,659.3 219.1,658.2 218.3,657.1 217.5,656 216.7,655 215.9,653.9 215.5,652.6 215.8,651.1 216.2,649.6 216.1,648.3 215.3,647.2 214.5,646.1 213.7,645 212.9,643.9 212.1,642.8 211.3,641.6 211,640.4 211.4,638.9 211.8,637.4 211.9,636.1 211.1,634.9 210.4,633.8 209.7,632.6 209.1,631.5 208.4,630.3 207.7,629.1 207.5,627.8 208.1,626.3 208.6,624.9 208.7,623.5 208.1,622.3 207.5,621.1 206.9,619.9 206.3,618.8 205.7,617.6 205.1,616.4 204.9,615.1 205.5,613.6 206.1,612.1 206.2,610.8 205.6,609.6 205,608.4 204.4,607.2 203.7,606 203.1,604.8 202.5,603.6 202.3,602.3 202.8,600.9 203.4,599.5 203.5,598.1 202.9,596.9 202.3,595.7 201.6,594.5 201,593.3 200.4,592.1 199.8,590.9 199.6,589.6 200.2,588.2 200.8,586.8 201,585.4 200.4,584.2 199.9,583 199.3,581.7 198.7,580.5 198.2,579.3 197.6,578 197.6,576.7 198.3,575.3 199,573.9 199.2,572.6 198.7,571.4 198.2,570.1 197.7,568.9 197.2,567.6 196.8,566.4 196.3,565.1 196.3,563.8 197,562.4 197.8,561 198.1,559.7 197.6,558.4 197.2,557.2 196.7,555.9 196.2,554.7 195.8,553.4 195.3,552.1 195.3,550.8 196.1,549.5 196.9,548.1 197.2,546.8 196.8,545.5 196.3,544.3 195.9,543 195.4,541.7 195,540.4 194.5,539.1 194.6,537.8 195.4,536.5 196.2,535.2 196.5,533.9 196.1,532.6 195.7,531.3 195.2,530 194.8,528.7 194.4,527.4 194,526.2 194.1,524.9 194.9,523.5 195.8,522.2 196.1,520.9 195.7,519.6 195.3,518.4 195,517.1 194.6,515.8 194.2,514.5 193.8,513.1 193.9,511.8 194.8,510.6 195.7,509.3 196.1,508 195.7,506.7 195.4,505.4 195,504.1 194.7,502.8 194.3,501.4 194,500.1 194.2,498.8 195.1,497.6 196,496.3 196.4,495.1 196.1,493.7 195.8,492.4 195.5,491.1 195.2,489.8 194.9,488.5 194.6,487.1 194.8,485.8 195.8,484.6 196.8,483.4 197.2,482.1 197,480.8 196.7,479.5 196.4,478.1 196.2,476.8 195.9,475.5 195.7,474.1 196,472.9 197,471.7 198,470.5 198.5,469.2 198.3,467.9 198.1,466.6 197.9,465.2 197.8,463.9 197.6,462.6 197.4,461.2 197.7,460 198.8,458.8 199.9,457.7 200.5,456.4 200.3,455.1 200.2,453.8 200.1,452.4 199.9,451.1 199.8,449.8 199.7,448.4 200.1,447.2 201.2,446 202.3,444.9 202.9,443.7 202.8,442.4 202.7,441 202.6,439.7 202.5,438.4 202.4,437 202.3,435.7 202.7,434.4 203.8,433.3 204.9,432.2 205.5,431 205.4,429.7 205.3,428.3 205.2,427 205,425.6 204.9,424.3 204.8,422.9 205.2,421.7 206.3,420.6 207.4,419.5 207.9,418.3 207.8,417 207.7,415.6 207.6,414.2 207.5,412.9 207.4,411.5 207.3,410.1 207.7,408.9 208.8,407.8 209.9,406.8 210.5,405.6 210.4,404.2 210.4,402.9 210.3,401.5 210.2,400.1 210.2,398.7 210.2,397.4 210.7,396.2 211.8,395.2 213,394.2 213.7,393 213.7,391.6 213.7,390.3 213.7,388.9 213.7,387.6 213.7,386.2 213.7,384.8 214.3,383.6 215.5,382.6 216.6,381.7 217.3,380.5 217.4,379.2 217.4,377.8 217.5,376.5 217.6,375.1 217.6,373.7 217.7,372.4 218.3,371.2 219.6,370.3 220.9,369.4 221.6,368.3 221.7,366.9 221.8,365.5 221.9,364.2 222,362.8 222.1,361.5 222.2,360.1 222.8,358.9 224,358 225.3,357.1 226,356 226.1,354.6 226.3,353.3 226.4,351.9 226.6,350.6 226.7,349.2 226.9,347.9 227.6,346.8 228.9,345.9 230.3,345.1 231.1,344 231.3,342.7 231.5,341.4 231.7,340 231.9,338.7 232.1,337.3 232.3,336 233.1,334.9 234.4,334.1 235.8,333.3 236.6,332.2 236.9,330.9 237.1,329.6 237.3,328.2 237.6,326.9 237.8,325.6 238.1,324.2 238.8,323.1 240.2,322.4 241.5,321.6 242.3,320.5 242.5,319.2 242.7,317.8 242.9,316.4 243.2,315.1 243.4,313.7 243.7,312.4 244.4,311.3 245.8,310.6 247.2,309.8 248.1,308.8 248.4,307.5 248.7,306.2 249.1,304.9 249.5,303.6 249.9,302.3 250.3,301 251.2,300.1 252.6,299.4 254.1,298.8 255.1,297.8 255.5,296.6 255.9,295.3 256.4,294 256.8,292.8 257.2,291.5 257.7,290.2 258.6,289.3 260.1,288.7 261.6,288.1 262.6,287.2 263,285.9 263.4,284.6 263.8,283.3 264.2,282 264.6,280.7 265,279.4 265.8,278.4 267.2,277.7 268.5,277.1 269.4,276.1 269.7,274.7 270,273.3 270.4,272 270.7,270.6 271,269.2 271.4,267.9 272.2,266.9 273.6,266.2 274.9,265.6 275.9,264.7 276.2,263.3 276.6,262 277,260.7 277.4,259.3 277.9,258 278.3,256.7 279.3,255.8 280.7,255.3 282.2,254.8 283.3,253.9 283.8,252.7 284.3,251.4 284.9,250.2 285.5,249 286.1,247.8 286.6,246.5 287.7,245.7 289.2,245.2 290.7,244.8 291.8,244 292.3,242.7 292.9,241.5 293.5,240.3 294.1,239.1 294.7,237.9 295.4,236.7 296.4,235.9 298,235.5 299.6,235.2 300.7,234.4 301.4,233.3 302.1,232.1 302.7,231 303.4,229.9 304.1,228.7 304.8,227.6 306,226.9 307.6,226.6 309.2,226.3 310.4,225.7 311.1,224.6 311.9,223.4 312.6,222.3 313.3,221.2 314,220.1 314.7,218.9 315.9,218.2 317.4,217.9 319,217.7 320.1,216.9 320.7,215.8 321.4,214.6 322,213.4 322.7,212.2 323.3,210.9 323.9,209.7 325,208.9 326.5,208.6 328,208.3 329.1,207.5 329.7,206.3 330.4,205.1 331,203.9 331.7,202.7 332.3,201.5 333,200.3 334.1,199.5 335.6,199.3 337.1,199 338.2,198.3 339,197.1 339.7,196 340.4,194.8 341.1,193.6 341.8,192.5 342.6,191.3 343.7,190.7 345.3,190.5 346.8,190.3 348,189.6 348.7,188.5 349.5,187.4 350.3,186.2 351,185.1 351.8,184 352.6,182.9 353.7,182.2 355.3,182.1 356.8,181.9 358,181.3 358.8,180.2 359.6,179.1 360.4,178 361.2,176.9 362,175.8 362.8,174.7 364,174.1 365.6,174.1 367.2,174 368.4,173.4 369.3,172.4 370.1,171.4 371,170.4 371.9,169.4 372.8,168.4 373.7,167.4 375,166.9 376.6,166.9 378.2,167 379.5,166.5 380.4,165.6 381.3,164.6 382.3,163.7 383.2,162.8 384.2,161.9 385.1,160.9 386.5,160.6 388.1,160.7 389.7,160.8 391,160.5 392,159.6 393,158.7 393.9,157.8 394.9,156.9 395.9,156 396.9,155.1 398.2,154.7 399.8,154.8 401.4,155 402.6,154.6 403.6,153.6 404.5,152.7 405.5,151.8 406.4,150.8 407.4,149.9 408.3,148.9 409.6,148.5 411.2,148.7 412.7,148.8 414,148.3 414.9,147.3 415.8,146.4 416.8,145.4 417.7,144.3 418.6,143.3 419.5,142.3 420.8,141.8 422.3,141.9 423.8,142 424.9,141.4 425.9,140.4 426.8,139.4 427.7,138.3 428.7,137.3 429.6,136.3 430.6,135.3 431.8,134.8 433.3,135 434.8,135.1 436.1,134.6 437,133.7 438,132.7 439,131.8 440,130.9 441.1,130 442.1,129.1 443.4,128.8 444.9,129.1 446.5,129.3 447.8,129 448.8,128.2 449.9,127.3 450.9,126.5 452,125.7 453.1,124.9 454.1,124.1 455.5,123.8 457,124.2 458.6,124.5 459.8,124.2 460.9,123.3 462,122.5 463,121.7 464.1,120.8 465.2,120 466.2,119.1 467.5,118.9 469.1,119.2 470.6,119.5 471.8,119.2 472.9,118.4 474,117.5 475.1,116.7 476.1,115.8 477.2,115 478.3,114.2 479.6,114 481.1,114.3 482.6,114.7 483.9,114.4 485,113.6 486.2,112.9 487.3,112.1 488.4,111.4 489.5,110.6 490.7,109.9 492,109.8 493.5,110.2 495,110.6 496.3,110.4 497.4,109.7 498.6,108.9 499.7,108.2 500.9,107.5 502,106.7 503.2,106 504.5,105.9 506,106.4 507.5,106.8 508.8,106.7 509.9,106 511.1,105.3 512.3,104.6 513.4,103.9 514.6,103.1 515.8,102.4 517.1,102.4 518.6,102.9 520.1,103.5 521.4,103.4 522.5,102.7 523.7,102.1 524.9,101.4 526.1,100.8 527.3,100.2 528.5,99.6 529.9,99.7 531.4,100.3 532.8,100.9 534.1,100.9 535.4,100.3 536.6,99.7 537.8,99.2 539,98.6 540.2,98.1 541.4,97.5 542.8,97.6 544.2,98.3 545.7,99 547,98.9 548.2,98.4 549.5,97.8 550.7,97.3 551.9,96.7 553.1,96.2 554.4,95.6 555.7,95.8 557.1,96.5 558.6,97.2 559.9,97.2 561.1,96.6 562.3,96.1 563.6,95.6 564.8,95.1 566.1,94.5 567.3,94 568.7,94.2 570.1,94.9 571.5,95.7 572.8,95.7 574,95.2 575.3,94.7 576.5,94.3 577.8,93.8 579.1,93.3 580.3,92.9 581.7,93.1 583,93.9 584.4,94.7 585.7,94.8 587,94.4 588.2,93.9 589.5,93.5 590.8,93.1 592.1,92.7 593.3,92.2 594.7,92.5 596,93.4 597.4,94.2 598.7,94.3 599.9,93.9 601.2,93.5 602.5,93.1 603.8,92.7 605.1,92.3 606.4,91.9 607.7,92.2 609,93.1 610.3,93.9 611.6,94 612.9,93.6 614.2,93.3 615.5,92.9 616.8,92.5 618.1,92.1 619.4,91.8 620.7,92.2 622,93 623.3,93.9 624.6,94.1 625.9,93.7 627.2,93.4 628.5,93.1 629.8,92.7 631.1,92.4 632.4,92.1 633.7,92.5 634.9,93.4 636.2,94.3 637.5,94.5 638.8,94.2 640.1,93.9 641.4,93.5 642.7,93.2 644.1,92.9 645.4,92.6 646.7,93.1 647.9,94 649.1,95 650.4,95.2 651.7,94.9 653.1,94.6 654.4,94.3 655.7,94.1 657,93.8 658.4,93.5 659.6,94 660.8,95 662,95.9 663.3,96.2 664.6,95.9 666,95.6 667.3,95.4 668.6,95.1 670,94.8 671.3,94.5 672.6,95 673.8,96 675,96.9 676.2,97.1 677.6,96.9 678.9,96.6 680.3,96.4 681.6,96.2 683,95.9 684.3,95.7 685.6,96.3 686.7,97.3 687.9,98.3 689.1,98.6 690.5,98.4 691.8,98.3 693.2,98.1 694.5,98 695.8,97.9 697.2,97.8 698.4,98.4 699.5,99.6 700.6,100.7 701.9,101.1 703.2,101 704.5,101 705.9,100.9 707.2,100.9 708.5,100.8 709.9,100.8 711.1,101.5 712.1,102.6 713.2,103.8 714.4,104.2 715.8,104.2 717.1,104.2 718.5,104.1 719.8,104.1 721.1,104.1 722.5,104 723.6,104.8 724.7,105.9 725.7,107.1 726.9,107.6 728.3,107.6 729.6,107.6 731,107.6 732.3,107.6 733.7,107.6 735,107.6 736.1,108.3 737.1,109.5 738.2,110.7 739.4,111.2 740.7,111.2 742.1,111.2 743.4,111.3 744.7,111.3 746.1,111.3 747.4,111.3 748.6,112.1 749.5,113.3 750.5,114.5 751.7,115 753.1,115 754.4,115 755.8,115 757.2,115 758.5,115.1 759.9,115.1 761,115.9 762,117.1 762.9,118.3 764.1,118.7 765.5,118.8 766.8,118.9 768.2,118.9 769.5,119 770.9,119.1 772.3,119.2 773.3,120 774.2,121.3 775.1,122.6 776.3,123.1 777.6,123.3 779,123.4 780.3,123.6 781.6,123.8 783,124 784.3,124.2 785.3,125.1 786.1,126.4 787,127.8 788.1,128.4 789.4,128.6 790.8,128.8 792.1,129.1 793.4,129.3 794.7,129.5 796.1,129.7 797.1,130.7 797.9,132 798.7,133.3 799.8,133.9 801.1,134.2 802.5,134.4 803.8,134.6 805.1,134.8 806.5,135 807.8,135.2 808.8,136.1 809.6,137.5 810.4,138.8 811.6,139.4 812.9,139.6 814.2,139.8 815.6,140.1 816.9,140.3 818.2,140.5 819.6,140.8 820.5,141.8 821.3,143.1 822,144.5 823.2,145.1 824.5,145.4 825.8,145.7 827.1,146 828.5,146.2 829.8,146.5 831.1,146.9 832,147.9 832.7,149.3 833.4,150.7 834.5,151.4 835.8,151.7 837.1,152.1 838.4,152.4 839.7,152.8 841,153.1 842.3,153.5 843.2,154.6 843.8,156 844.4,157.5 845.5,158.2 846.8,158.6 848.1,159 849.3,159.4 850.6,159.8 851.9,160.2 853.2,160.6 854,161.7 854.6,163.2 855.2,164.6 856.3,165.4 857.5,165.8 858.8,166.2 860.1,166.6 861.4,167 862.7,167.4 864,167.8 864.8,168.9 865.4,170.3 866,171.7 867.1,172.5 868.4,172.8 869.7,173.2 871,173.6 872.4,174 873.7,174.4 875,174.9 875.8,175.9 876.3,177.4 876.9,178.8 877.9,179.6 879.2,180.1 880.5,180.5 881.7,181 883,181.5 884.2,182.1 885.5,182.6 886.2,183.8 886.6,185.3 887.1,186.9 888,187.7 889.2,188.3 890.4,188.9 891.6,189.5 892.8,190 894,190.6 895.2,191.2 895.9,192.5 896.3,194 896.7,195.5 897.7,196.4 898.9,196.9 900.1,197.5 901.4,198 902.6,198.6 903.8,199.2 905.1,199.7 905.7,200.9 906.1,202.4 906.5,203.9 907.5,204.8 908.7,205.4 910,206 911.2,206.6 912.4,207.2 913.6,207.8 914.8,208.4 915.4,209.7 915.7,211.3 916,212.8 916.9,213.7 918.1,214.4 919.2,215 920.4,215.7 921.6,216.4 922.8,217 923.9,217.7 924.5,218.9 924.8,220.5 925.1,222 926,222.9 927.2,223.5 928.4,224.2 929.6,224.8 930.8,225.5 932,226.1 933.2,226.8 933.8,228 934.1,229.5 934.4,231 935.3,231.9 936.5,232.6 937.7,233.3 938.9,234 940.1,234.6 941.3,235.3 942.4,236.1 942.9,237.3 943.2,238.9 943.4,240.4 944.2,241.4 945.3,242.1 946.5,242.9 947.6,243.6 948.7,244.4 949.8,245.2 950.9,245.9 951.4,247.3 951.5,248.8 951.7,250.4 952.5,251.4 953.5,252.2 954.6,253 955.7,253.8 956.7,254.6 957.8,255.5 958.8,256.3 959.2,257.7 959.2,259.3 959.2,260.9 959.9,262 960.9,262.9 961.9,263.8 962.9,264.7 963.8,265.6 964.8,266.5 965.8,267.4 966.1,268.8 966,270.4 966,272 966.6,273.2 967.6,274.1 968.5,275 969.4,275.9 970.4,276.8 971.4,277.7 972.5,278.5 972.9,279.8 973,281.3 973.2,282.8 974,283.8 975,284.6 976.3,285.4 977.4,286.2 978.5,287 979.6,287.8 980.8,288.6 981.1,289.9 981.2,291.4 981.3,292.9 982.1,294 983.1,294.8 984.3,295.6 985.4,296.5 986.4,297.4 987.6,298.2 988.7,299.1 989,300.4 988.9,301.9 988.9,303.5 989.5,304.6 990.4,305.6 991.3,306.6 992.2,307.6 993.1,308.5 994,309.5 995,310.5 995.1,311.9 995,313.5 994.8,315 995.4,316.2 996.4,317.1 997.3,318.1 998.3,319.1 999.2,320 1000.2,321 1001.1,322 1001.2,323.4 1001.1,324.9 1000.9,326.5 1001.5,327.6 1002.5,328.6 1003.3,329.6 1004.2,330.6 1005.1,331.7 1005.9,332.7 1006.7,333.8 1006.7,335.2 1006.4,336.8 1006,338.4 1006.5,339.6 1007.3,340.7 1008.1,341.7 1008.9,342.8 1009.7,343.8 1010.6,344.9 1011.4,346 1011.4,347.4 1011,348.9 1010.7,350.5 1011.2,351.7 1012.1,352.7 1012.9,353.8 1013.7,354.9 1014.5,355.9 1015.3,357 1016.1,358.1 1016.1,359.5 1015.8,361 1015.5,362.5 1016.1,363.7 1016.9,364.7 1017.8,365.8 1018.6,366.9 1019.4,367.9 1020.2,369 1021,370.1 1021,371.5 1020.6,373 1020.2,374.5 1020.7,375.7 1021.4,376.8 1022.2,378 1022.9,379.1 1023.7,380.2 1024.5,381.3 1025.2,382.4 1025.1,383.8 1024.7,385.3 1024.3,386.8 1024.8,388 1025.6,389.1 1026.3,390.2 1027.1,391.3 1027.9,392.5 1028.7,393.6 1029.5,394.7 1029.4,396.1 1028.9,397.6 1028.5,399 1029,400.2 1029.8,401.4 1030.5,402.5 1031.3,403.6 1032,404.8 1032.8,405.9 1033.5,407.1 1033.4,408.5 1032.9,409.9 1032.4,411.4 1032.8,412.6 1033.6,413.8 1034.3,414.9 1035,416.1 1035.7,417.3 1036.4,418.4 1037,419.6 1036.8,421 1036.3,422.5 1035.8,423.9 1036.1,425.1 1036.8,426.3 1037.5,427.5 1038.1,428.7 1038.8,429.9 1039.4,431.1 1040,432.3 1039.7,433.7 1039.1,435.1 1038.5,436.6 1038.8,437.8 1039.4,439 1040,440.3 1040.6,441.5 1041.1,442.7 1041.7,443.9 1042.3,445.1 1041.9,446.5 1041.2,447.9 1040.6,449.4 1040.8,450.6 1041.4,451.9 1041.9,453.1 1042.5,454.3 1043,455.6 1043.5,456.8 1044.1,458 1043.7,459.4 1043,460.8 1042.3,462.2 1042.6,463.5 1043.1,464.7 1043.6,465.9 1044.2,467.2 1044.7,468.4 1045.2,469.7 1045.7,470.9 1045.3,472.3 1044.6,473.7 1043.8,475.1 1044.1,476.3 1044.5,477.6 1045,478.8 1045.5,480.1 1046,481.4 1046.4,482.6 1046.9,483.9 1046.4,485.2 1045.6,486.6 1044.7,488 1044.9,489.3 1045.3,490.5 1045.8,491.8 1046.2,493.1 1046.6,494.3 1047,495.6 1047.4,496.9 1046.9,498.2 1046.1,499.6 1045.2,500.9 1045.4,502.2 1045.8,503.5 1046.2,504.7 1046.6,506 1047,507.3 1047.4,508.6 1047.8,509.9 1047.2,511.2 1046.4,512.5 1045.6,513.8 1045.7,515.1 1046.1,516.4 1046.4,517.7 1046.8,519"/>
<g stroke="#000" stroke-width="5.8" stroke-linecap="butt" fill="none">
<line x1="455" y1="383" x2="470" y2="368"/>
<line x1="435" y1="409" x2="446" y2="397"/>
<line x1="424" y1="435.5" x2="430" y2="424"/>
<line x1="414" y1="462" x2="420" y2="447"/>
<line x1="407" y1="492" x2="412" y2="475.5"/>
<line x1="406.5" y1="523" x2="408" y2="505"/>
<line x1="408" y1="538" x2="411" y2="557"/>
<line x1="413" y1="574" x2="421" y2="590.5"/>
<line x1="426" y1="612" x2="440" y2="633"/>
<line x1="449" y1="649" x2="462" y2="660"/>
<line x1="481" y1="355" x2="496" y2="349"/>
<line x1="510" y1="335" x2="527" y2="326"/>
<line x1="548.5" y1="316" x2="570" y2="311"/>
<line x1="590" y1="307.5" x2="611" y2="307.5"/>
<line x1="630" y1="307" x2="647" y2="307"/>
<line x1="666" y1="311" x2="686" y2="316"/>
<line x1="701" y1="322.5" x2="720" y2="330"/>
<line x1="733.5" y1="340" x2="747" y2="349"/>
<line x1="760" y1="359" x2="776" y2="372"/>
<line x1="787" y1="388" x2="800" y2="405.5"/>
<line x1="812" y1="428" x2="822" y2="445.5"/>
<line x1="826" y1="464" x2="832" y2="480.5"/>
<line x1="831.5" y1="500.5" x2="834" y2="517"/>
<line x1="833.5" y1="534" x2="832" y2="550.5"/>
<line x1="828.5" y1="565.5" x2="823" y2="582"/>
<line x1="820" y1="598" x2="812" y2="612"/>
<line x1="807" y1="623" x2="796" y2="638"/>
<line x1="790" y1="651" x2="778" y2="660"/>
<line x1="766" y1="675" x2="753.5" y2="683.5"/>
<line x1="740" y1="697" x2="723.5" y2="703.5"/>
<line x1="702" y1="716" x2="682" y2="721"/>
<line x1="661" y1="728.5" x2="638.5" y2="731"/>
<line x1="618.5" y1="733.5" x2="598.5" y2="730"/>
<line x1="582" y1="731" x2="566" y2="723.5"/>
<line x1="550" y1="721" x2="535" y2="712"/>
<line x1="520" y1="708.5" x2="505" y2="700"/>
<line x1="490" y1="687" x2="476" y2="675"/>
</g>
<g fill="#000">
<rect x="-2.8" y="-2.8" width="5.6" height="5.6" rx="1.4" transform="translate(555 434.5) rotate(-127)"/>
<rect x="-2.8" y="-2.8" width="5.6" height="5.6" rx="1.4" transform="translate(568 424) rotate(-118)"/>
<rect x="-2.8" y="-2.8" width="5.6" height="5.6" rx="1.4" transform="translate(589 416) rotate(-106)"/>
<rect x="-2.8" y="-2.8" width="5.6" height="5.6" rx="1.4" transform="translate(609 413) rotate(-96)"/>
<rect x="-2.8" y="-2.8" width="5.6" height="5.6" rx="1.4" transform="translate(628 412.5) rotate(-85)"/>
<rect x="-2.8" y="-2.8" width="5.6" height="5.6" rx="1.4" transform="translate(646.5 416) rotate(-75)"/>
<rect x="-2.8" y="-2.8" width="5.6" height="5.6" rx="1.4" transform="translate(661 420) rotate(-67)"/>
<rect x="-2.8" y="-2.8" width="5.6" height="5.6" rx="1.4" transform="translate(674.5 426) rotate(-59)"/>
<rect x="-2.8" y="-2.8" width="5.6" height="5.6" rx="1.4" transform="translate(689 436.5) rotate(-50)"/>
<rect x="-2.8" y="-2.8" width="5.6" height="5.6" rx="1.4" transform="translate(702.5 451) rotate(-39)"/>
<rect x="-2.8" y="-2.8" width="5.6" height="5.6" rx="1.4" transform="translate(715 469) rotate(-28)"/>
<rect x="-2.8" y="-2.8" width="5.6" height="5.6" rx="1.4" transform="translate(721.5 486.5) rotate(-18)"/>
<rect x="-2.8" y="-2.8" width="5.6" height="5.6" rx="1.4" transform="translate(726 503) rotate(-9)"/>
<rect x="-2.8" y="-2.8" width="5.6" height="5.6" rx="1.4" transform="translate(726.5 519) rotate(0)"/>
<rect x="-2.8" y="-2.8" width="5.6" height="5.6" rx="1.4" transform="translate(725.5 533) rotate(8)"/>
<rect x="-2.8" y="-2.8" width="5.6" height="5.6" rx="1.4" transform="translate(724 547) rotate(15)"/>
<rect x="-2.8" y="-2.8" width="5.6" height="5.6" rx="1.4" transform="translate(719 560) rotate(22)"/>
<rect x="-2.8" y="-2.8" width="5.6" height="5.6" rx="1.4" transform="translate(713 572) rotate(30)"/>
<rect x="-2.8" y="-2.8" width="5.6" height="5.6" rx="1.4" transform="translate(706 583) rotate(36)"/>
<rect x="-2.8" y="-2.8" width="5.6" height="5.6" rx="1.4" transform="translate(696.5 593) rotate(44)"/>
<rect x="-2.8" y="-2.8" width="5.6" height="5.6" rx="1.4" transform="translate(687 603.5) rotate(51)"/>
<rect x="-2.8" y="-2.8" width="5.6" height="5.6" rx="1.4" transform="translate(670.5 614) rotate(62)"/>
<rect x="-2.8" y="-2.8" width="5.6" height="5.6" rx="1.4" transform="translate(650.5 621) rotate(73)"/>
<rect x="-2.8" y="-2.8" width="5.6" height="5.6" rx="1.4" transform="translate(631.5 624) rotate(83)"/>
<rect x="-2.8" y="-2.8" width="5.6" height="5.6" rx="1.4" transform="translate(613 625.5) rotate(93)"/>
<rect x="-2.8" y="-2.8" width="5.6" height="5.6" rx="1.4" transform="translate(595.5 622) rotate(103)"/>
<rect x="-2.8" y="-2.8" width="5.6" height="5.6" rx="1.4" transform="translate(579.5 618) rotate(112)"/>
<rect x="-2.8" y="-2.8" width="5.6" height="5.6" rx="1.4" transform="translate(566 608.5) rotate(121)"/>
<rect x="-2.8" y="-2.8" width="5.6" height="5.6" rx="1.4" transform="translate(552.5 601) rotate(129)"/>
<rect x="-2.8" y="-2.8" width="5.6" height="5.6" rx="1.4" transform="translate(540 589) rotate(139)"/>
<rect x="-2.8" y="-2.8" width="5.6" height="5.6" rx="1.4" transform="translate(528 572) rotate(150)"/>
<rect x="-2.8" y="-2.8" width="5.6" height="5.6" rx="1.4" transform="translate(518.5 552.5) rotate(162)"/>
<rect x="-2.8" y="-2.8" width="5.6" height="5.6" rx="1.4" transform="translate(515 535.5) rotate(171)"/>
<rect x="-2.8" y="-2.8" width="5.6" height="5.6" rx="1.4" transform="translate(513.5 518) rotate(-179)"/>
<rect x="-2.8" y="-2.8" width="5.6" height="5.6" rx="1.4" transform="translate(515 504.5) rotate(-172)"/>
<rect x="-2.8" y="-2.8" width="5.6" height="5.6" rx="1.4" transform="translate(517.5 491) rotate(-165)"/>
<rect x="-2.8" y="-2.8" width="5.6" height="5.6" rx="1.4" transform="translate(524.5 473.5) rotate(-154)"/>
<rect x="-2.8" y="-2.8" width="5.6" height="5.6" rx="1.4" transform="translate(533 457) rotate(-144)"/>
<rect x="-2.8" y="-2.8" width="5.6" height="5.6" rx="1.4" transform="translate(542 446) rotate(-137)"/>
</g>
<circle cx="620.5" cy="519" r="9.3" fill="#000"/>
<rect x="288" y="1030" width="110.214" height="46" fill="#a33d6c" shape-rendering="crispEdges"/>
<rect x="397.714" y="1030" width="110.214" height="46" fill="#c8889f" shape-rendering="crispEdges"/>
<rect x="507.429" y="1030" width="110.214" height="46" fill="#e2c0cc" shape-rendering="crispEdges"/>
<rect x="617.143" y="1030" width="110.214" height="46" fill="#f7f7f7" shape-rendering="crispEdges"/>
<rect x="726.857" y="1030" width="110.214" height="46" fill="#c1d1bc" shape-rendering="crispEdges"/>
<rect x="836.571" y="1030" width="110.214" height="46" fill="#90ab85" shape-rendering="crispEdges"/>
<rect x="946.286" y="1030" width="109.714" height="46" fill="#4d7c3f" shape-rendering="crispEdges"/>
<text x="288" y="1109.5" font-size="22.7" text-anchor="middle">-30%</text>
<text x="397.714" y="1109.5" font-size="22.7" text-anchor="middle">-20%</text>
<text x="507.429" y="1109.5" font-size="22.7" text-anchor="middle">-10%</text>
<text x="617.143" y="1109.5" font-size="22.7" text-anchor="middle">-5%</text>
<text x="726.857" y="1109.5" font-size="22.7" text-anchor="middle">+5%</text>
<text x="836.571" y="1109.5" font-size="22.7" text-anchor="middle">+10%</text>
<text x="946.286" y="1109.5" font-size="22.7" text-anchor="middle">+20%</text>
<text x="1056" y="1109.5" font-size="22.7" text-anchor="middle">+30%</text>
<text x="1151" y="1146" font-size="23" text-anchor="end">Data StatCan census 2001-2021</text>
</svg></body></html>
